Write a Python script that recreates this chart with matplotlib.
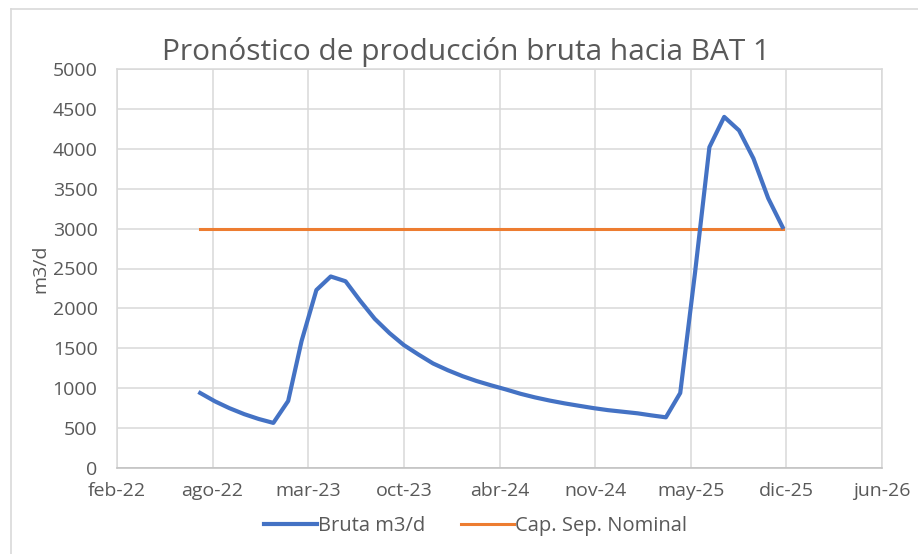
import matplotlib
matplotlib.use("Agg")
import matplotlib.pyplot as plt
from matplotlib.lines import Line2D
import datetime as dt

plt.rcParams["font.family"] = ["Open Sans", "DejaVu Sans"]

# --- data (monthly, ago-22 .. dic-25) ---
first_month = dt.date(2022, 8, 1)
bruta = [940, 835, 750, 675, 615, 565, 840, 1590, 2230, 2400,
         2340, 2100, 1870, 1690, 1540, 1420, 1310, 1225, 1150, 1090,
         1035, 985, 930, 885, 845, 810, 780, 750, 725, 705,
         685, 660, 635, 940, 2450, 4020, 4400, 4230, 3880, 3380,
         3020]
cap_nominal = 3000

tick_labels = ["feb-22", "ago-22", "mar-23", "oct-23", "abr-24",
               "nov-24", "may-25", "dic-25", "jun-26"]
axis_start = dt.date(2022, 2, 8)
tick_step_days = 200

months = []
for i in range(len(bruta)):
    y = first_month.year + (first_month.month - 1 + i) // 12
    m = (first_month.month - 1 + i) % 12 + 1
    months.append(dt.date(y, m, 1))
cap = [cap_nominal] * len(months)

grey = "#595959"
fig = plt.figure(figsize=(9.18, 5.54), dpi=100)
ax = fig.add_axes([117 / 918, 86 / 554, 765 / 918, 399 / 554])

ax.plot(months, bruta, color="#4472C4", lw=3.0, solid_joinstyle="round",
        label="Bruta m3/d", zorder=3)
ax.plot(months, cap, color="#ED7D31", lw=2.2, label="Cap. Sep. Nominal", zorder=2)

ticks = [axis_start + dt.timedelta(days=tick_step_days * i) for i in range(len(tick_labels))]
ax.set_xlim(ticks[0], ticks[-1])
ax.set_xticks(ticks)
ax.set_xticklabels(tick_labels)
ax.set_ylim(0, 5000)
ax.set_yticks(range(0, 5001, 500))

ax.grid(True, color="#D9D9D9", lw=1.1)
ax.set_axisbelow(True)
for s in ["top", "right", "left"]:
    ax.spines[s].set_color("#D9D9D9")
    ax.spines[s].set_linewidth(1.1)
ax.spines["bottom"].set_color("#BFBFBF")
ax.spines["bottom"].set_linewidth(1.1)
ax.tick_params(length=0, labelsize=14, colors=grey, pad=10)
ax.tick_params(axis="y", pad=14)

ax.set_ylabel("m3/d", fontsize=14, color=grey, labelpad=2)
fig.text(0.5076, 0.907, "Pronóstico de producción bruta hacia BAT 1",
         ha="center", va="center", fontsize=21.5, color=grey)

fig.legend(loc="center", bbox_to_anchor=(0.518, 0.050), ncol=2, frameon=False,
           fontsize=14.5, handlelength=2.6, columnspacing=1.8, handletextpad=0.05,
           labelcolor=grey)

# chart area border
bx, by = 11 / 918, 1 - 9 / 554
fig.add_artist(Line2D([bx, 1.01], [by, by], color="#D9D9D9", lw=1.2,
                      transform=fig.transFigure))
fig.add_artist(Line2D([bx, bx], [by, -0.01], color="#D9D9D9", lw=1.2,
                      transform=fig.transFigure))

fig.savefig("out.png", dpi=100)
